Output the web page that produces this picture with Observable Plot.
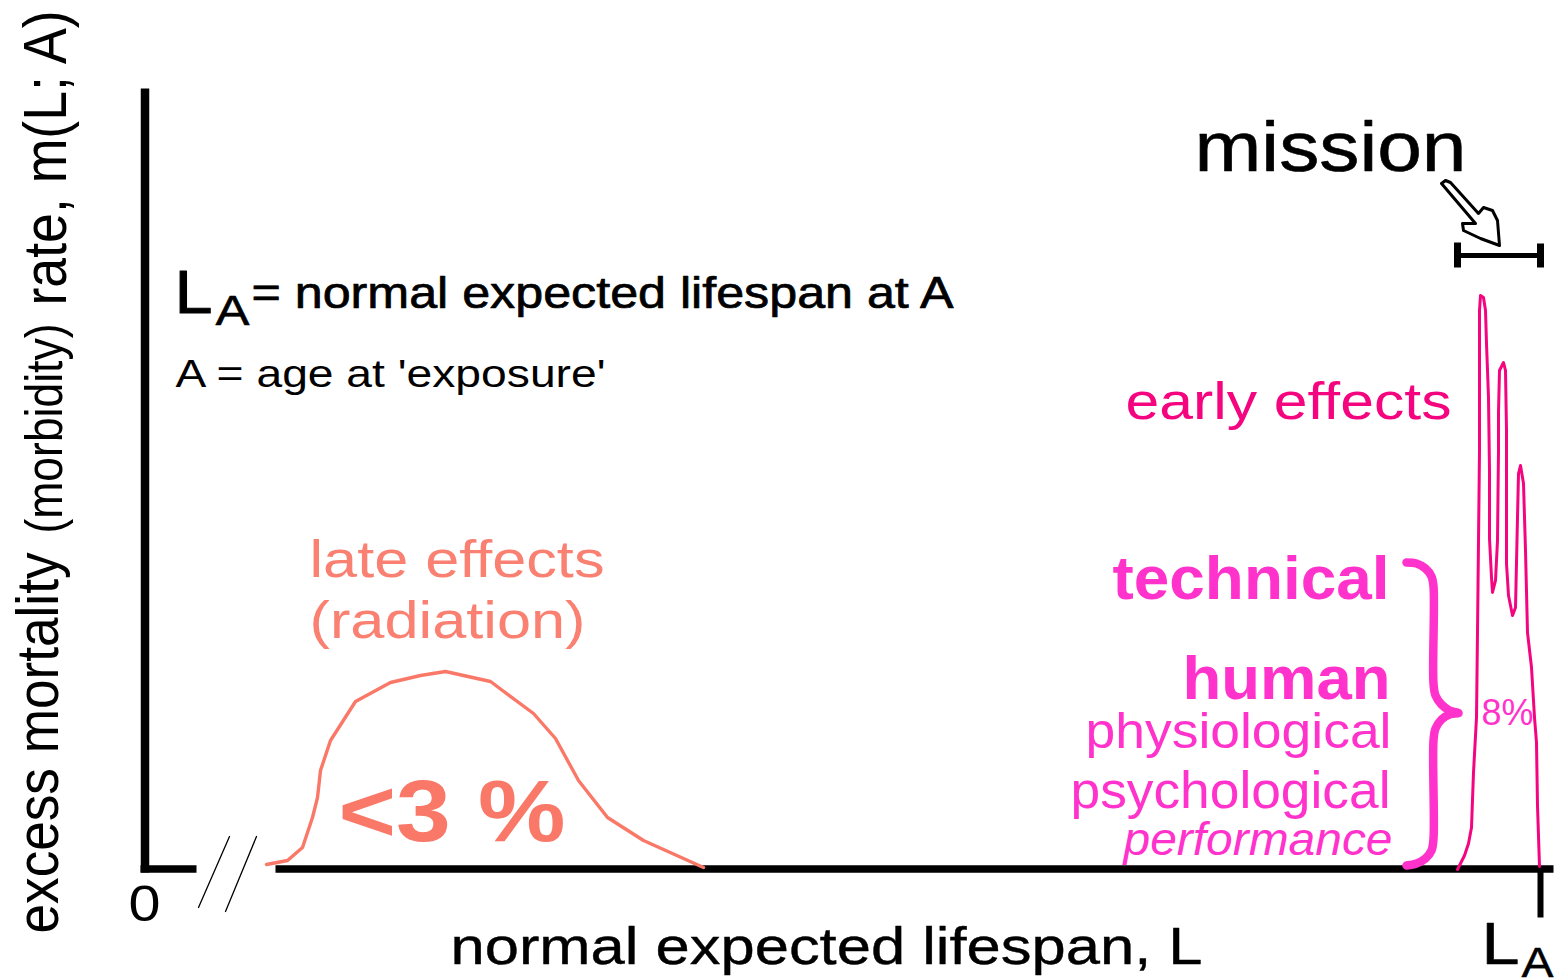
<!DOCTYPE html>
<html><head><meta charset="utf-8">
<style>html,body{margin:0;padding:0;background:#fff}svg{display:block}</style>
<script src="https://cdn.jsdelivr.net/npm/d3@7"></script>
<script src="https://cdn.jsdelivr.net/npm/@observablehq/plot@0.6"></script>
</head><body><div id="chart"></div>
<script>
// Schematic curves (lifespan position, rate position)
const lateX  = [266,287,302,312,317,320,330,355,390,420,445,490,533,555,578,607,643,703];
const lateY  = [864,860,847,817,797,770,740,701,682,675,671,681,713,738,780,817,840,867];
const earlyX = [1457,1464,1468,1471,1473,1476,1477,1479,1479,1480,1483,1485,1486,1488,1489,1489,1491,1492,1495,1497,1498,1498,1499,1503,1505,1506,1506,1508,1512,1515,1517,1518,1520,1523,1525,1527,1531,1534,1536,1537,1539];
const earlyY = [869,855,843,827,772,717,632,450,310,295,297,310,343,397,470,538,577,592,580,540,450,412,370,362,370,430,563,595,615,607,517,473,465,483,550,632,667,717,742,805,866];
const braceX = [1406,1416,1425,1431,1433,1433,1435,1441,1449,1458,1449,1441,1435,1433,1433,1431,1425,1416,1406];
const braceY = [562,563,568,576,586,683,695,704,710,712.5,714,719,728,740,838,850,858,863,865];
const handX  = [1441,1445,1450,1478,1483,1492,1497,1499,1480,1463,1462,1475,1441];
const handY  = [183,180,182,213,207,210,220,245,238,230,223,223,183];

const black = "#000", late = "#fa7868", early = "#f5047f", brace = "#ff33cc";
const seg = (x,y) => x.map((d,i)=>({x:d,y:y[i]}));

const labels = [
 {t:"mission",x:1194,y:170,s:70,w:272,c:black,k:0.6},
 {t:"L",x:174,y:312,s:62,w:38,c:black,k:1},
 {t:"A",x:215,y:324,s:42,w:34,c:black,k:0.6},
 {t:"= normal expected lifespan at A",x:251,y:307,s:44,w:702,c:black,k:0.7},
 {t:"A = age at 'exposure'",x:175,y:386,s:38,w:430,c:black},
 {t:"early effects",x:1125,y:418,s:52,w:326,c:early},
 {t:"late effects",x:309,y:576,s:52,w:295,c:"#fa8072"},
 {t:"(radiation)",x:309,y:637,s:52,w:276,c:"#fa8072"},
 {t:"<3 %",x:338,y:840,s:88,w:227,c:late,b:1},
 {t:"technical",x:1112,y:598,s:62,w:277,c:brace,b:1},
 {t:"human",x:1182,y:698,s:62,w:208,c:brace,b:1},
 {t:"physiological",x:1085,y:747,s:50,w:306,c:brace},
 {t:"psychological",x:1070,y:807,s:52,w:320,c:brace},
 {t:"performance",x:1123,y:854,s:46,w:269,c:brace,i:1},
 {t:"8%",x:1481,y:724,s:36,w:52,c:brace},
 {t:"0",x:128,y:920,s:50,w:32,c:black},
 {t:"normal expected lifespan, L",x:450,y:963,s:52,w:752,c:black,k:0.4},
 {t:"L",x:1481,y:963,s:60,w:38,c:black,k:0.6},
 {t:"A",x:1521,y:976,s:42,w:32,c:black,k:0.4},
 {t:"excess mortality",x:57,y:933,s:60,w:381,c:black,r:-90},
 {t:"(morbidity)",x:61,y:533,s:52,w:210,c:black,r:-90},
 {t:"rate, m(L; A)",x:65,y:305,s:62,w:295,c:black,r:-90}
];

const chart = Plot.plot({
  width:1556,height:978,margin:0,
  x:{domain:[0,1556],range:[0,1556],axis:null},
  y:{domain:[0,978],range:[0,978],axis:null},
  style:{background:"#fff"},
  marks:[
    // axes
    Plot.line(seg([144.5,144.5],[88,872]),{x:"x",y:"y",stroke:black,strokeWidth:8.5,strokeLinecap:"butt"}),
    Plot.line(seg([140,196],[868.5,868.5]),{x:"x",y:"y",stroke:black,strokeWidth:7.5,strokeLinecap:"butt"}),
    Plot.line(seg([275,1553],[868.5,868.5]),{x:"x",y:"y",stroke:black,strokeWidth:7.5,strokeLinecap:"butt"}),
    Plot.line(seg([1540,1540],[869,917]),{x:"x",y:"y",stroke:black,strokeWidth:6,strokeLinecap:"butt"}),
    // axis break
    Plot.line(seg([229,198],[836,907]),{x:"x",y:"y",stroke:black,strokeWidth:1.3}),
    Plot.line(seg([256,225],[836,911]),{x:"x",y:"y",stroke:black,strokeWidth:1.3}),
    // mission bar
    Plot.line(seg([1457,1540],[255,255]),{x:"x",y:"y",stroke:black,strokeWidth:5,strokeLinecap:"butt"}),
    Plot.line(seg([1457,1457],[242,267]),{x:"x",y:"y",stroke:black,strokeWidth:7,strokeLinecap:"butt"}),
    Plot.line(seg([1540,1540],[243,267]),{x:"x",y:"y",stroke:black,strokeWidth:7,strokeLinecap:"butt"}),
    // hand pointer
    Plot.line(seg(handX,handY),{x:"x",y:"y",stroke:black,strokeWidth:3,fill:"#fff",curve:"linear"}),
    // curves
    Plot.line(seg(lateX,lateY),{x:"x",y:"y",stroke:late,strokeWidth:3.4}),
    Plot.line(seg(earlyX,earlyY),{x:"x",y:"y",stroke:early,strokeWidth:3}),
    Plot.line(seg(braceX,braceY),{x:"x",y:"y",stroke:brace,strokeWidth:8.5,curve:"catmull-rom",strokeLinecap:"round"}),
    // labels
    ...labels.map(l=>Plot.text([l],{x:"x",y:"y",text:"t",fill:l.c,fontSize:l.s,textAnchor:"start",lineAnchor:"bottom",
      stroke:l.k?l.c:"none",strokeWidth:l.k||0,
      fontWeight:l.b?"bold":"normal",fontStyle:l.i?"italic":"normal",rotate:l.r||0,fontFamily:"Liberation Sans"}))
  ]
});
document.getElementById("chart").append(chart);
// stretch each label to the width it has in the picture
chart.querySelectorAll("text").forEach((n,i)=>{ const l=labels[i]; if(l){ n.setAttribute("textLength",l.w); n.setAttribute("lengthAdjust","spacingAndGlyphs"); }});
</script></body></html>
